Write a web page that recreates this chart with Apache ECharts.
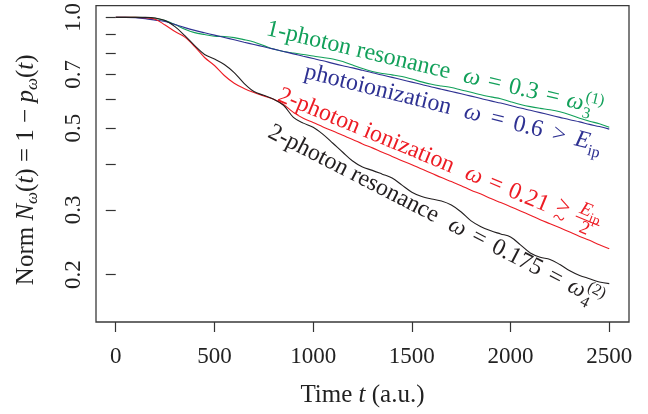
<!DOCTYPE html>
<html><head><meta charset="utf-8">
<script src="https://cdn.jsdelivr.net/npm/echarts@6/dist/echarts.min.js"></script>
<style>html,body{margin:0;padding:0;background:#fff}#c{width:648px;height:414px}</style>
</head><body><div id="c"></div>
<script>
// ---- data (time in a.u., norm values) ----
const times = [0,50,100,150,200,250,300,350,400,450,500,550,600,650,700,750,800,850,900,950,
  1000,1050,1100,1150,1200,1250,1300,1350,1400,1450,1500,1550,1600,1650,1700,1750,1800,1850,1900,1950,
  2000,2050,2100,2150,2200,2250,2300,2350,2400,2450,2500];
const normGreen = [1.0,1.0,1.0,0.998,0.995,0.980,0.956,0.929,0.909,0.898,0.889,0.887,0.881,0.870,0.857,0.838,0.820,0.808,0.800,0.793,
  0.785,0.778,0.771,0.759,0.742,0.726,0.713,0.704,0.698,0.691,0.680,0.668,0.658,0.651,0.645,0.635,0.626,0.616,0.608,0.601,
  0.590,0.580,0.572,0.566,0.561,0.554,0.544,0.532,0.522,0.514,0.503];
const normBlue = [1.0,1.0,0.998,0.992,0.983,0.974,0.956,0.938,0.922,0.908,0.895,0.882,0.869,0.856,0.844,0.832,0.820,0.808,0.796,0.784,
  0.773,0.762,0.750,0.739,0.729,0.718,0.707,0.697,0.687,0.677,0.667,0.657,0.647,0.638,0.629,0.620,0.611,0.602,0.593,0.585,
  0.576,0.567,0.559,0.551,0.543,0.535,0.527,0.520,0.512,0.505,0.497];
const normRed = [1.0,1.0,1.0,0.998,0.989,0.953,0.915,0.884,0.833,0.778,0.740,0.695,0.662,0.641,0.625,0.612,0.599,0.580,0.552,0.532,
  0.518,0.504,0.491,0.478,0.466,0.453,0.442,0.430,0.419,0.408,0.398,0.387,0.377,0.367,0.358,0.349,0.339,0.331,0.322,0.314,
  0.306,0.298,0.290,0.282,0.275,0.268,0.261,0.254,0.248,0.241,0.235];
const normBlack = [1.0,1.0,1.0,1.0,0.996,0.980,0.944,0.892,0.838,0.793,0.771,0.745,0.708,0.662,0.629,0.614,0.599,0.577,0.535,0.516,
  0.503,0.481,0.455,0.430,0.407,0.392,0.384,0.375,0.366,0.350,0.335,0.326,0.321,0.317,0.309,0.296,0.280,0.270,0.263,0.258,
  0.253,0.241,0.229,0.223,0.220,0.213,0.205,0.199,0.195,0.191,0.189];
const xTicks = [0,500,1000,1500,2000,2500];
const yLabelTicks = [0.2,0.3,0.5,0.7,1.0];
const yTicks = [0.2,0.3,0.4,0.5,0.6,0.7,0.8,0.9,1.0];

// ---- styling ----
const FAM = '"Liberation Serif","DejaVu Serif",serif';
const GREEN = '#12a05a', BLUE = '#2e3192', RED = '#ed1c24', BLACK = '#231f20';
const AX = '#333';

const chart = echarts.init(document.getElementById('c'));
function mk(name, vals, color){
  return {name, type:'line', data: times.map((t,i)=>[t, vals[i]]), showSymbol:false, smooth:0.35,
    lineStyle:{color, width:1.1}, itemStyle:{color}, silent:true};
}
chart.setOption({
  animation:false,
  textStyle:{fontFamily:FAM},
  grid:{left:96,right:19,top:4,bottom:92,show:true,borderColor:'#3a3a3a',borderWidth:1.3},
  xAxis:{type:'value', min:-100, max:2600,
    axisLine:{show:false},
    axisTick:{show:true, inside:false, length:10, customValues:xTicks, lineStyle:{color:AX,width:1.2}},
    axisLabel:{customValues:xTicks, margin:23, fontSize:23, color:'#222', fontFamily:FAM,
      formatter:v=>String(v)},
    splitLine:{show:false},
    name:'{r|Time }{i|t}{r| (a.u.)}', nameLocation:'middle', nameGap:61,
    nameTextStyle:{rich:{r:{fontSize:25,fontFamily:FAM,color:'#222'}, i:{fontSize:25,fontFamily:FAM,fontStyle:'italic',color:'#222'}}}
  },
  yAxis:{type:'log', logBase:10, min:0.1487, max:1.076,
    axisLine:{show:false},
    axisTick:{show:true, inside:false, length:10, customValues:yTicks, lineStyle:{color:AX,width:1.2}},
    axisLabel:{customValues:yLabelTicks, rotate:90, margin:11, fontSize:23, color:'#222', fontFamily:FAM,
      formatter:v=>Number(v).toFixed(1)},
    splitLine:{show:false}, minorTick:{show:false},
    name:'{r|Norm }{i|N}{s|ω}{r|(}{i|t}{r|) = 1 − }{i|p}{s|ω}{r|(}{i|t}{r|)}',
    nameLocation:'middle', nameGap:55,
    nameTextStyle:{padding:[0,12,0,0], rich:{
      r:{fontSize:25,fontFamily:FAM,color:'#222',lineHeight:30,verticalAlign:'middle'},
      i:{fontSize:25,fontFamily:FAM,fontStyle:'italic',color:'#222',lineHeight:30,verticalAlign:'middle'},
      s:{fontSize:17,fontFamily:FAM,fontStyle:'italic',color:'#222',lineHeight:16,verticalAlign:'bottom'}}}
  },
  series:[mk('1-photon resonance',normGreen,GREEN), mk('photoionization',normBlue,BLUE),
          mk('2-photon ionization',normRed,RED), mk('2-photon resonance',normBlack,BLACK)]
});

// ---- on-curve labels (anchored in data coordinates) ----
function mathParts(lead, gap, rel1, num, rel2, tail){
  return [['rm',lead],['gap',14],['it','ω'],['gap',gap],['rm',rel1],['gap',gap],['rm',num],['gap',gap]]
    .concat(rel2 ? [['rm',rel2],['gap',gap]] : []).concat(tail);
}
const annos = [
  {color:GREEN, at:[755,0.887], angle:13.4, size:24,
   parts:mathParts('1-photon resonance', 8, '=', '0.3', '=', [['it','ω'],['subsup','3','(1)']])},
  {color:BLUE, at:[948,0.678], angle:14, size:24,
   parts:mathParts('photoionization', 10, '=', '0.6', '>', [['it','E'],['sub','ip']])},
  {color:RED, at:[811,0.588], angle:22.5, size:24,
   parts:mathParts('2-photon ionization', 8, '=', '0.21', null, [['gtsim'],['gap',8],['frac']])},
  {color:BLACK, at:[761,0.470], angle:27.2, size:24,
   parts:mathParts('2-photon resonance', 9, '=', '0.175', '=', [['it','ω'],['subsup','4','(2)']])}
];
const ctx = document.createElement('canvas').getContext('2d');
function measure(font, s){ ctx.font = font; return ctx.measureText(s).width; }
function buildAnno(a){
  const S = a.size, small = Math.round(S*0.68);
  const ch = []; let x = 0;
  const put = (txt, st, size, base, px) => {
    const f = (st==='it'?'italic ':'') + size + 'px ' + FAM;
    ch.push({type:'text', x:px, y:base - 0.34*size, silent:true,
      style:{text:txt, font:f, fill:a.color, align:'left', verticalAlign:'middle'}});
    return measure(f, txt);
  };
  for (const p of a.parts){
    const k = p[0];
    if (k==='gap') x += p[1];
    else if (k==='rm' || k==='it') x += put(p[1], k, S, 0, x);
    else if (k==='sub') x += put(p[1], 'rm', small, 0.24*S, x);
    else if (k==='subsup'){
      const w1 = put(p[1], 'rm', small, 0.26*S, x+1);
      const w2 = put(p[2], 'rm', small, -0.42*S, x+1);
      x += Math.max(w1, w2) + 1;
    } else if (k==='gtsim'){
      const w1 = put('>', 'rm', S, -0.2*S, x);
      const w2 = put('~', 'rm', Math.round(S*0.9), 0.3*S, x + 0.5);
      x += Math.max(w1, w2);
    } else if (k==='frac'){
      const fs = Math.round(S*0.8), fs2 = Math.round(fs*0.72), axis = -0.4*S;
      const wE = measure('italic '+fs+'px '+FAM, 'E'), wip = measure(fs2+'px '+FAM, 'ip');
      const wd = measure(fs+'px '+FAM, '2');
      const W = Math.max(wE+wip, wd) + 3;
      const nx = x + (W-(wE+wip))/2;
      put('E','it',fs, axis-3, nx);
      put('ip','rm',fs2, axis-3+0.22*fs, nx+wE);
      put('2','rm',fs, axis+2+0.68*fs, x+(W-wd)/2);
      ch.push({type:'line', silent:true, shape:{x1:x, y1:axis, x2:x+W, y2:axis}, style:{stroke:a.color, lineWidth:1.1}});
      x += W;
    }
  }
  const p = chart.convertToPixel({gridIndex:0}, a.at);
  return {type:'group', x:p[0], y:p[1], rotation:-a.angle*Math.PI/180, silent:true, children:ch};
}
chart.setOption({graphic:annos.map(buildAnno)});
</script></body></html>
